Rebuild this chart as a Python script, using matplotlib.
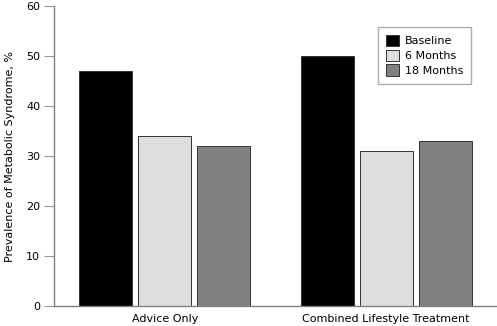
import numpy as np
import matplotlib
matplotlib.use("Agg")
from matplotlib import pyplot as plt

# ---- data ----
groups = ["Advice Only", "Combined Lifestyle Treatment"]
series = ["Baseline", "6 Months", "18 Months"]
baseline = [47, 50]
months6 = [34, 31]
months18 = [32, 33]
colors = ["#000000", "#dedede", "#808080"]

fig = plt.figure(figsize=(4.97, 3.26), dpi=100)
ax = fig.add_axes([54/497, 20/326, 443/497, 300/326])

x = np.arange(len(groups))
w = 0.24
step = 0.267
for i, (vals, c, lab) in enumerate(zip([baseline, months6, months18], colors, series)):
	ax.bar(x + (i - 1)*step, vals, width=w, color=c, edgecolor="#333333",
	       linewidth=0.7, label=lab)

ax.set_xlim(-0.5, 1.5)
ax.set_ylim(0, 60)
ax.set_yticks(range(0, 61, 10))
ax.set_xticks(x)
ax.set_xticklabels(groups, fontsize=8)
ax.tick_params(axis="x", length=0, pad=6)
ax.tick_params(axis="y", length=7, color="#999999", labelsize=8, pad=3)
for s in ["top", "right"]:
	ax.spines[s].set_visible(False)
for s in ["left", "bottom"]:
	ax.spines[s].set_color("#808080")
	ax.spines[s].set_linewidth(1)

ax.set_ylabel("Prevalence of Metabolic Syndrome, %", fontsize=8, labelpad=8)

leg = ax.legend(loc="upper left", bbox_to_anchor=(324/443, 1 - 21/300), fontsize=8,
	frameon=True, fancybox=False, handlelength=1.2, handleheight=1.2,
	handletextpad=0.5, borderpad=0.7, labelspacing=0.3, borderaxespad=0)
leg.get_frame().set_edgecolor("#999999")
leg.get_frame().set_linewidth(1)

fig.savefig("out.png", dpi=100)
